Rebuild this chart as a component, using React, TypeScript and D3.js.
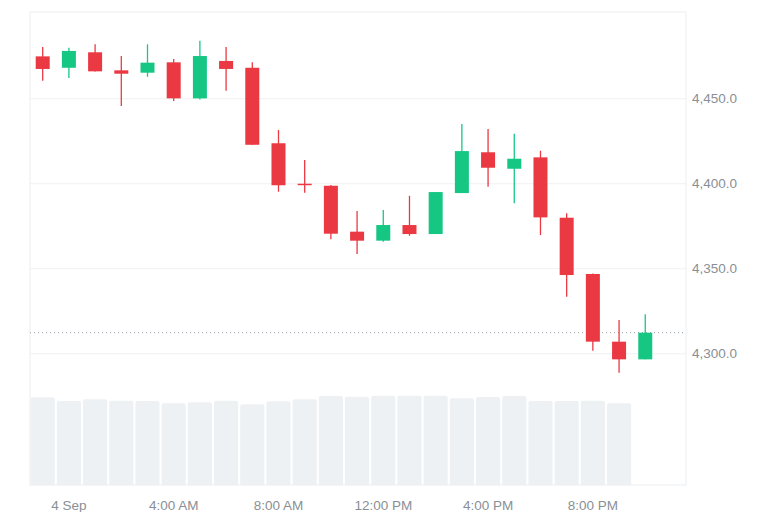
import React from "react";
import * as d3 from "d3";

// Hourly candles, 3 Sep 23:00 → 4 Sep 22:00
const hours: number[] = Array.from({ length: 24 }, (_, i) => i);
const opens = [4474.9, 4468.2, 4477.3, 4466.7, 4465.3, 4471.4, 4450.2, 4472.2, 4468.2, 4423.8, 4400.0, 4398.8, 4371.8, 4366.5, 4375.7, 4370.4, 4394.5, 4418.5, 4408.8, 4415.5, 4380.0, 4346.9, 4307.1, 4296.7];
const highs = [4480.4, 4480.0, 4482.0, 4475.1, 4482.0, 4473.4, 4484.1, 4480.4, 4471.4, 4431.6, 4413.9, 4399.2, 4383.9, 4384.5, 4392.9, 4395.1, 4435.1, 4432.2, 4429.4, 4419.4, 4382.6, 4347.2, 4319.8, 4323.2];
const lows = [4460.6, 4462.2, 4466.0, 4445.7, 4462.9, 4448.6, 4449.6, 4454.7, 4422.9, 4395.3, 4394.7, 4367.3, 4358.6, 4365.9, 4369.4, 4370.4, 4394.5, 4398.2, 4388.5, 4369.8, 4333.5, 4301.8, 4288.8, 4296.7];
const closes = [4467.5, 4478.1, 4466.1, 4464.7, 4471.2, 4450.2, 4475.1, 4467.5, 4422.9, 4399.1, 4399.2, 4370.6, 4366.5, 4375.7, 4370.4, 4395.1, 4419.2, 4409.4, 4414.7, 4380.2, 4346.3, 4307.1, 4296.7, 4312.4];
const volumes = [87.7, 84.0, 85.7, 84.3, 84.0, 81.7, 82.7, 84.3, 80.7, 83.7, 85.7, 89.0, 88.3, 89.3, 89.3, 89.3, 86.7, 88.0, 89.0, 84.0, 84.0, 84.3, 81.7];
const priceTicks = [4300, 4350, 4400, 4450];
const timeTicks = [1, 5, 9, 13, 17, 21];
const timeTickLabels = ["4 Sep", "4:00 AM", "8:00 AM", "12:00 PM", "4:00 PM", "8:00 PM"];

const W = 768;
const H = 512;
const left = 30;
const right = 686;
const top = 12;
const bottom = 485;

const UP = "#16c784";
const DOWN = "#ea3943";

export default function App() {
  const x = d3.scaleLinear().domain([-0.485, 24.555]).range([left, right]);
  const y = d3.scaleLinear().domain([4222.8, 4501]).range([bottom, top]);
  const v = d3.scaleLinear().domain([0, 100]).range([bottom, bottom - 100]);
  const step = x(1) - x(0);
  const bodyW = 14;
  const volW = step - 2;
  const lastClose = closes[closes.length - 1];
  const font = "'Liberation Sans', Arial, sans-serif";

  return (
    <svg
      width={W}
      height={H}
      style={{ position: "absolute", left: 0, top: 0, background: "#fff" }}
    >
      {/* grid */}
      {priceTicks.map((t) => (
        <line key={t} x1={left} x2={right} y1={y(t)} y2={y(t)} stroke="#f0f1f3" strokeWidth={1} />
      ))}
      {/* volume */}
      {volumes.map((vol, i) => (
        <path
          key={"v" + i}
          d={(() => {
            const x0 = x(hours[i]) - volW / 2;
            const y0 = v(vol);
            const r = 2;
            return `M${x0},${bottom}V${y0 + r}Q${x0},${y0} ${x0 + r},${y0}H${x0 + volW - r}Q${x0 + volW},${y0} ${x0 + volW},${y0 + r}V${bottom}Z`;
          })()}
          fill="#eef1f4"
        />
      ))}
      {/* frame */}
      <rect x={left} y={top} width={right - left} height={bottom - top} fill="none" stroke="#eceef1" strokeWidth={1} />
      {/* last price line */}
      <line x1={left} x2={right} y1={y(lastClose)} y2={y(lastClose)} stroke="#9aa0a8" strokeWidth={1} strokeDasharray="1 3" />
      {/* candles */}
      {hours.map((h, i) => {
        const up = closes[i] >= opens[i];
        const c = up ? UP : DOWN;
        const cx = x(h);
        const yt = y(Math.max(opens[i], closes[i]));
        const yb = y(Math.min(opens[i], closes[i]));
        return (
          <g key={"c" + i}>
            <line x1={cx} x2={cx} y1={y(highs[i])} y2={y(lows[i])} stroke={c} strokeWidth={1.3} />
            <rect x={cx - bodyW / 2} y={yt} width={bodyW} height={Math.max(1.5, yb - yt)} fill={c} />
          </g>
        );
      })}
      {/* price axis labels */}
      {priceTicks.map((t) => (
        <text key={"pt" + t} x={692} y={y(t)} dy="0.35em" fill="#8a8f96" fontSize={13.5} fontFamily={font}>
          {d3.format(",.1f")(t)}
        </text>
      ))}
      {/* time axis labels */}
      {timeTicks.map((t, i) => (
        <text key={"tt" + t} x={x(t)} y={505} dy="0.35em" textAnchor="middle" fill="#8a8f96" fontSize={13.5} fontFamily={font}>
          {timeTickLabels[i]}
        </text>
      ))}
    </svg>
  );
}
